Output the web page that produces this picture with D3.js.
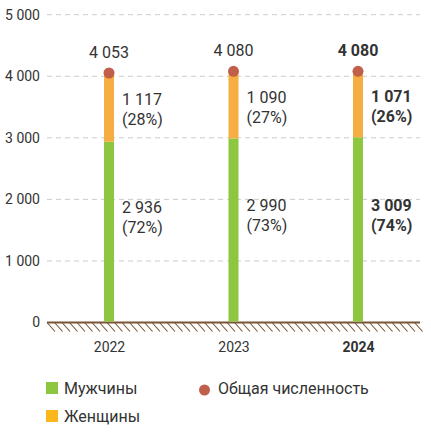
<!DOCTYPE html>
<html><head><meta charset="utf-8">
<script src="https://cdn.jsdelivr.net/npm/d3@7"></script>
<style>
html,body{margin:0;padding:0;background:#fff;}
svg{display:block;font-family:Roboto,"Noto Sans",sans-serif;}
</style></head>
<body>
<svg id="chart" width="431" height="444"></svg>
<script>
const years = ["2022", "2023", "2024"];
const men = [2936, 2990, 3009];
const women = [1117, 1090, 1071];
const totals = [4053, 4080, 4080];
const menPct = ["72%", "73%", "74%"];
const womenPct = ["28%", "27%", "26%"];
const yTicks = [0, 1000, 2000, 3000, 4000, 5000];
const highlightYear = "2024";
const legendItems = ["Мужчины", "Женщины", "Общая численность"];

const C = {green:"#8dc63f", orange:"#f6ad42", orangeLegend:"#fbb61c", dot:"#c0604b", text:"#333333", grid:"#cccccc", ground:"#7a5535"};
const fmt = v => d3.format(",")(v).replace(/,/g, " ");

const svg = d3.select("#chart");
const x0 = 47, x1 = 420;
const x = d3.scalePoint().domain(years).range([109, 358]);
const y = d3.scaleLinear().domain([0, 5000]).range([322.5, 14.7]);

// grid
svg.append("g").selectAll("line").data(yTicks.filter(t => t > 0)).join("line")
  .attr("x1", x0).attr("x2", x1).attr("y1", d => y(d)).attr("y2", d => y(d))
  .attr("stroke", C.grid).attr("stroke-width", 1).attr("stroke-dasharray", "5,4");

// y axis
const yAxis = d3.axisLeft(y).tickValues(yTicks).tickSize(0).tickPadding(0).tickFormat(fmt);
const ya = svg.append("g").attr("transform", "translate(40,0)").call(yAxis);
ya.select(".domain").remove();
ya.selectAll("text").attr("fill", C.text).style("font-size", "14px").style("font-family", "Roboto");

// ground hatch
const hatch = svg.append("g");
for (let hx = x0; hx <= x1 - 2; hx += 7.5) {
  hatch.append("line").attr("x1", hx).attr("y1", y(0)).attr("x2", hx + 8).attr("y2", y(0) + 9)
    .attr("stroke", C.ground).attr("stroke-width", 1.1);
}
svg.append("line").attr("x1", x0).attr("x2", x1).attr("y1", y(0)).attr("y2", y(0))
  .attr("stroke", C.ground).attr("stroke-width", 2);

// bars
const bw = 10;
const data = years.map((yr, i) => ({yr, men: men[i], women: women[i], total: totals[i], mp: menPct[i], wp: womenPct[i], bold: yr === highlightYear}));
const g = svg.append("g");
g.selectAll("rect.men").data(data).join("rect").attr("class", "men")
  .attr("x", d => x(d.yr) - bw / 2).attr("width", bw)
  .attr("y", d => y(d.men)).attr("height", d => y(0) - y(d.men) - 1)
  .attr("fill", C.green);
g.selectAll("rect.women").data(data).join("rect").attr("class", "women")
  .attr("x", d => x(d.yr) - bw / 2).attr("width", bw)
  .attr("y", d => y(d.men + d.women)).attr("height", d => y(d.men) - y(d.men + d.women))
  .attr("fill", C.orange);
g.selectAll("circle").data(data).join("circle")
  .attr("cx", d => x(d.yr)).attr("cy", d => y(d.total)).attr("r", 5.5).attr("fill", C.dot);

// labels
const lab = svg.append("g").attr("fill", C.text).style("font-size", "16px");
lab.selectAll("text.tot").data(data).join("text").attr("class", "tot")
  .attr("x", d => x(d.yr)).attr("y", d => y(d.total) - 15).attr("text-anchor", "middle")
  .attr("font-weight", d => d.bold ? 700 : 400).text(d => fmt(d.total));
function twoLine(cls, valFn, pctFn, midFn, off) {
  const t = lab.selectAll("text." + cls).data(data).join("text").attr("class", cls)
    .attr("font-weight", d => d.bold ? 700 : 400);
  t.append("tspan").attr("x", d => x(d.yr) + 13).attr("y", d => y(midFn(d)) + off).text(valFn);
  t.append("tspan").attr("x", d => x(d.yr) + 13).attr("y", d => y(midFn(d)) + off + 20).text(pctFn);
}
twoLine("wl", d => fmt(d.women), d => "(" + d.wp + ")", d => d.men + d.women / 2, -2);
twoLine("ml", d => fmt(d.men), d => "(" + d.mp + ")", d => d.men / 2, -19);

// x axis labels
const xa = svg.append("g").attr("transform", `translate(0,${y(0)})`)
  .call(d3.axisBottom(x).tickSize(0).tickPadding(20));
xa.select(".domain").remove();
xa.selectAll("text").attr("fill", C.text).style("font-size", "14px").style("font-family", "Roboto")
  .attr("font-weight", d => d === highlightYear ? 700 : 400);

// legend
const lg = svg.append("g").attr("fill", C.text).style("font-size", "16px");
lg.append("rect").attr("x", 46).attr("y", 382).attr("width", 12).attr("height", 12).attr("fill", C.green);
lg.append("text").attr("x", 64).attr("y", 394).text(legendItems[0]);
lg.append("rect").attr("x", 46).attr("y", 410).attr("width", 12).attr("height", 12).attr("fill", C.orangeLegend);
lg.append("text").attr("x", 64).attr("y", 422).text(legendItems[1]);
lg.append("circle").attr("cx", 204.5).attr("cy", 390).attr("r", 5.5).attr("fill", C.dot);
lg.append("text").attr("x", 218).attr("y", 394).text(legendItems[2]);
</script>
</body></html>
